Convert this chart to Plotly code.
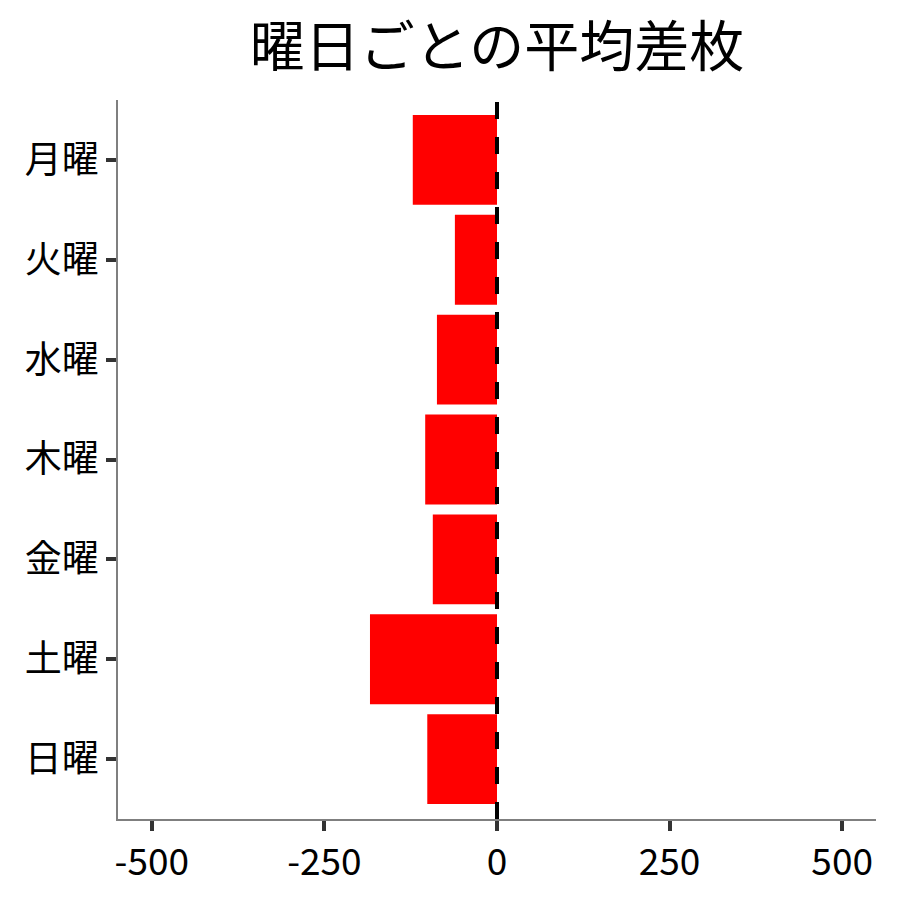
import plotly.graph_objects as go

# 曜日ごとの平均差枚
days = ["月曜", "火曜", "水曜", "木曜", "金曜", "土曜", "日曜"]
avg_diff = [-122, -61, -87, -104, -93, -184, -101]

title_text = "曜日ごとの平均差枚"
x_ticks = [-500, -250, 0, 250, 500]

fig = go.Figure()
fig.add_trace(go.Bar(
    x=avg_diff, y=days, orientation="h",
    marker=dict(color="#ff0000", line=dict(width=0)),
    showlegend=False,
))

# dashed zero line across the panel
fig.add_shape(type="line", xref="x", yref="paper",
              x0=0, x1=0, y0=0, y1=1,
              line=dict(color="black", width=4, dash="17px,18px"))

font_family = "Noto Sans CJK JP"
ml, mr = 110, 32
fig.update_layout(
    width=900, height=900,
    paper_bgcolor="white", plot_bgcolor="white",
    margin=dict(l=ml, r=mr, t=92, b=89),
    bargap=0.1,
    font=dict(family=font_family, color="black", size=37),
    title=dict(text=title_text, x=(ml + (900 - ml - mr) / 2) / 900,
               xanchor="center", y=0.957, yanchor="middle",
               font=dict(size=55, family=font_family, color="black")),
)
fig.update_xaxes(
    range=[-549, 549], tickvals=x_ticks, ticktext=[str(v) for v in x_ticks],
    showgrid=False, zeroline=False,
    showline=True, linecolor="#7f7f7f", linewidth=1.5,
    ticks="outside", ticklen=10, tickwidth=3.5, tickcolor="#333333",
    tickfont=dict(size=37, family=font_family, color="black"),
)
fig.update_yaxes(
    categoryorder="array", categoryarray=days[::-1],
    range=[-0.6, 6.6],
    showgrid=False, zeroline=False,
    showline=True, linecolor="#7f7f7f", linewidth=1.5,
    ticks="outside", ticklen=10, tickwidth=3.5, tickcolor="#333333",
    tickfont=dict(size=37, family=font_family, color="black"),
)

fig.write_html("out.html")
